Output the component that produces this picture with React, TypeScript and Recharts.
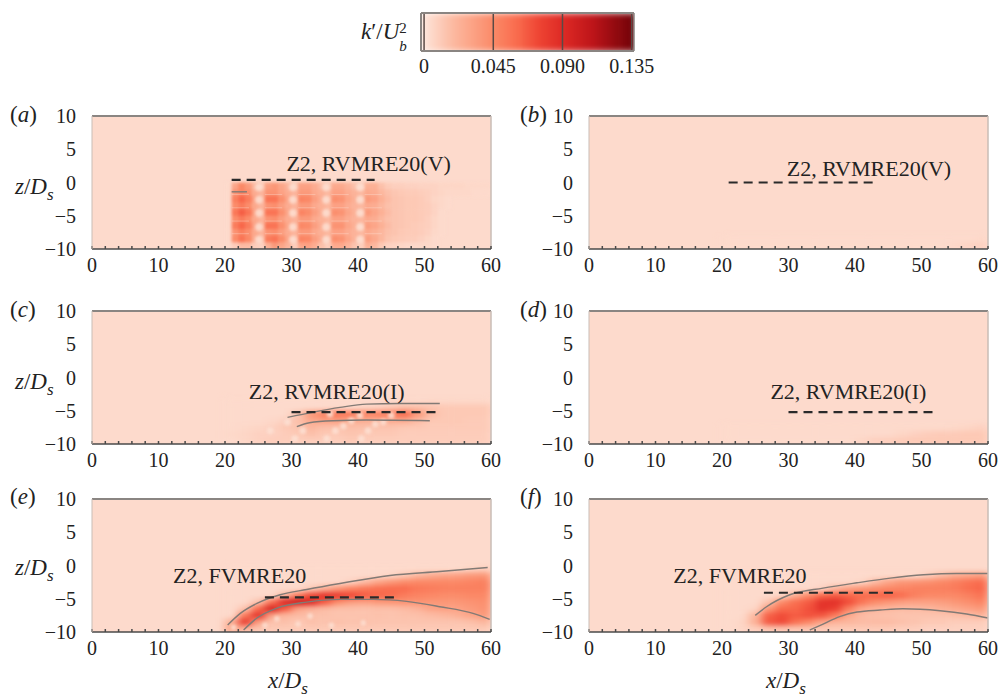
import React from "react";
import {
  CartesianGrid,
  ComposedChart,
  Line,
  ReferenceDot,
  ReferenceLine,
  Scatter,
  XAxis,
  YAxis,
} from "recharts";

const FONT = '"Liberation Serif", serif';
const INK = "#222";

// k'/Ub^2 is stored x1000 in the tables below, background is about 4
const colorStops = [0, 4, 20, 45, 60, 75, 90, 110, 135];
const colorValues = ["#fee6dc", "#fddacc", "#fcb79e", "#fb8a68", "#f96c4e", "#ee4433", "#de2a25", "#bd1419", "#740309"];

const barKeys = [0, 5, 10, 15, 20, 25, 30, 35, 40, 45, 50, 55, 60, 65, 70, 75, 80, 85, 90, 95, 100, 105, 110, 115, 120, 125, 130, 135];
const barTicks = [0, 45, 90, 135];

const xTicks = [0, 2, 4, 6, 8, 10, 12, 14, 16, 18, 20, 22, 24, 26, 28, 30, 32, 34, 36, 38, 40, 42, 44, 46, 48, 50, 52, 54, 56, 58, 60];
const zTicks = [10, 5, 0, -5, -10];
const fieldZ = [-0.5, -1.5, -2.5, -3.5, -4.5, -5.5, -6.5, -7.5, -8.5, -9.5];

// columns x = 20.5, 21.5, ... (dx = 1)
const fieldA = [
  [4, 30, 46, 36, 20, 14, 34, 38, 30, 22, 14, 32, 32, 26, 18, 14, 28, 28, 22, 16, 12, 24, 24, 16, 11, 9, 9, 8, 8, 7, 7, 7, 6, 6, 6, 6, 5, 5, 5, 5],
  [4, 40, 48, 42, 26, 22, 40, 40, 32, 26, 22, 36, 36, 28, 24, 20, 32, 32, 26, 22, 20, 28, 26, 20, 16, 13, 12, 11, 11, 10, 9, 7, 6, 5, 5, 5, 5, 4, 4, 4],
  [4, 50, 62, 52, 32, 22, 56, 56, 42, 30, 22, 48, 46, 34, 26, 20, 42, 40, 30, 24, 18, 36, 32, 24, 18, 14, 13, 12, 12, 11, 9, 6, 5, 4],
  [4, 44, 52, 44, 28, 22, 40, 42, 34, 26, 22, 36, 36, 28, 24, 20, 32, 32, 26, 22, 20, 28, 26, 20, 16, 14, 13, 12, 12, 11, 10, 7, 5, 4],
  [4, 54, 65, 56, 34, 22, 56, 56, 42, 30, 22, 48, 44, 34, 26, 20, 42, 40, 30, 24, 18, 36, 30, 24, 18, 14, 13, 12, 12, 11, 10, 7, 4],
  [4, 44, 52, 44, 28, 22, 40, 42, 34, 26, 22, 36, 36, 28, 24, 20, 32, 32, 26, 22, 20, 28, 26, 20, 16, 14, 13, 12, 12, 11, 9, 6, 4],
  [4, 52, 62, 52, 32, 22, 56, 56, 42, 30, 22, 46, 44, 34, 26, 20, 40, 40, 30, 24, 18, 34, 30, 24, 18, 14, 13, 12, 11, 10, 9, 6, 4],
  [4, 40, 50, 42, 28, 22, 40, 42, 34, 26, 22, 36, 36, 28, 24, 20, 32, 32, 26, 22, 20, 28, 24, 20, 16, 14, 12, 11, 11, 10, 8, 5, 4],
  [4, 44, 56, 46, 26, 18, 52, 56, 44, 30, 18, 48, 46, 34, 26, 18, 42, 40, 30, 22, 16, 34, 28, 20, 14, 12, 11, 10, 10, 8, 6, 4],
  [4, 10, 18, 18, 10, 8, 24, 36, 30, 22, 10, 30, 32, 26, 16, 10, 28, 28, 22, 14, 10, 24, 20, 12, 8, 7, 6, 5, 5, 5, 5, 4],
];

// columns x = 21, 23, ... 59 (dx = 2)
const fieldB = [
  [], [], [], [], [], [], [], [],
  [4, 4, 4, 4, 4, 4, 4, 4, 4, 4, 4, 4, 4, 4, 4, 4, 4, 4, 4, 5],
  [4, 4, 4, 4, 4, 4, 4, 4, 4, 4, 4, 4, 4, 4, 4, 4, 4, 5, 7, 8],
];

const fieldC = [
  [], [], [],
  [4, 4, 4, 4, 4, 4, 4, 4, 4, 4, 4, 4, 4, 4, 4, 5, 5, 5, 5, 5],
  [4, 4, 4, 4, 4, 4, 4, 4, 4, 4, 6, 8, 12, 16, 16, 14, 12, 12, 12, 12],
  [4, 4, 4, 4, 4, 14, 38, 50, 56, 54, 50, 50, 54, 62, 38, 18, 12, 12, 12, 12],
  [4, 4, 4, 5, 8, 16, 28, 32, 32, 28, 24, 24, 26, 26, 18, 12, 12, 12, 11, 11],
  [4, 5, 6, 8, 12, 14, 20, 16, 16, 16, 16, 14, 14, 12, 12, 11, 11, 11, 11, 11],
  [5, 6, 8, 8, 10, 12, 16, 12, 12, 14, 12, 12, 12, 10, 10, 10, 10, 10, 10, 10],
  [4, 6, 8, 10, 10, 10, 10, 10, 10, 12, 10, 10, 10, 10, 10, 10, 10, 10, 10, 10],
];

const fieldD = [
  [], [], [], [], [], [], [],
  [4, 4, 4, 4, 4, 4, 4, 4, 4, 4, 4, 4, 4, 4, 4, 4, 4, 5, 6, 8],
  [4, 4, 4, 4, 4, 4, 4, 4, 4, 4, 4, 4, 4, 6, 8, 10, 11, 11, 12, 12],
  [4, 4, 4, 4, 4, 4, 4, 4, 4, 4, 6, 9, 10, 11, 12, 12, 12, 12, 12, 12],
];

const fieldE = [
  [4, 4, 4, 4, 4, 4, 4, 4, 4, 4, 4, 4, 4, 4, 4, 4, 4, 4, 6, 9],
  [4, 4, 4, 4, 4, 4, 4, 4, 4, 4, 4, 4, 6, 12, 20, 26, 30, 32, 36, 38],
  [4, 4, 4, 4, 4, 4, 4, 4, 4, 8, 18, 30, 38, 44, 46, 46, 46, 46, 48, 50],
  [4, 4, 4, 4, 4, 4, 12, 24, 38, 48, 54, 58, 60, 60, 54, 52, 50, 50, 50, 50],
  [4, 4, 4, 4, 20, 52, 74, 84, 80, 74, 66, 62, 60, 52, 48, 46, 44, 44, 46, 46],
  [4, 4, 14, 56, 92, 102, 92, 66, 42, 34, 32, 36, 38, 40, 40, 38, 38, 38, 40, 42],
  [4, 14, 60, 96, 66, 30, 22, 18, 16, 16, 15, 16, 16, 18, 22, 30, 32, 32, 36, 40],
  [4, 52, 86, 30, 20, 18, 16, 15, 14, 14, 14, 15, 14, 15, 16, 18, 20, 24, 30, 36],
  [24, 82, 32, 14, 16, 12, 16, 14, 16, 14, 16, 14, 14, 14, 14, 14, 14, 14, 16, 20],
  [30, 20, 14, 12, 12, 12, 12, 12, 12, 12, 12, 12, 12, 12, 12, 12, 12, 12, 12, 12],
];

const fieldF = [
  [],
  [4, 4, 4, 4, 4, 4, 4, 4, 4, 4, 4, 4, 4, 4, 4, 10, 18, 26, 30, 34],
  [4, 4, 4, 4, 4, 4, 4, 4, 4, 4, 6, 18, 30, 38, 40, 42, 46, 50, 56, 60],
  [4, 4, 4, 4, 4, 4, 4, 8, 20, 32, 38, 42, 46, 48, 50, 50, 50, 52, 58, 62],
  [4, 4, 4, 4, 6, 24, 44, 60, 66, 62, 60, 62, 64, 60, 50, 46, 46, 46, 50, 56],
  [4, 4, 4, 14, 44, 58, 66, 84, 86, 72, 56, 44, 38, 34, 32, 32, 34, 38, 42, 48],
  [4, 4, 6, 38, 60, 62, 70, 84, 78, 50, 28, 22, 20, 18, 18, 20, 24, 28, 32, 36],
  [4, 4, 20, 64, 72, 66, 70, 68, 52, 28, 18, 16, 15, 14, 14, 14, 14, 16, 18, 22],
  [4, 6, 24, 68, 74, 58, 46, 30, 22, 20, 18, 18, 18, 16, 14, 12, 12, 10, 10, 10],
  [4, 6, 10, 14, 14, 14, 14, 12, 12, 12, 12, 12, 12, 10, 10, 8, 8, 8, 8, 8],
];

// light spots left by the vegetation patches
const holesA = [25.1, 30.2, 35.2, 40.3].flatMap((x) =>
  [-0.7, -2.6, -4.6, -6.7, -8.6].map((z) => ({ x, z })),
);
const holesC = [
  { x: 26.8, z: -8 }, { x: 29.4, z: -6.7 }, { x: 30.5, z: -9.2 }, { x: 31.7, z: -8 },
  { x: 35.3, z: -9.2 }, { x: 36.6, z: -8 }, { x: 37.8, z: -7.3 }, { x: 39, z: -6.5 },
  { x: 35.8, z: -5.5 }, { x: 40.3, z: -5.7 }, { x: 40.5, z: -9.2 }, { x: 41.5, z: -8 },
  { x: 42.6, z: -7 }, { x: 43.8, z: -6.7 }, { x: 45, z: -5.7 },
];
const holesE = [
  { x: 21.3, z: -9.3 }, { x: 26, z: -9 }, { x: 27.8, z: -8 }, { x: 31, z: -8.8 },
  { x: 32.8, z: -7.6 }, { x: 36, z: -9 }, { x: 40.8, z: -8.6 },
];

const contourAShort = [{ x: 21, z: -1.4 }, { x: 23.3, z: -1.4 }];
const contourCUpper = [
  { x: 29.4, z: -6 }, { x: 33.3, z: -5.2 }, { x: 37.3, z: -4.5 }, { x: 41.3, z: -4 }, { x: 46.3, z: -3.9 }, { x: 52.3, z: -3.9 },
];
const contourCLower = [
  { x: 30.8, z: -7.4 }, { x: 32.7, z: -6.8 }, { x: 36.2, z: -6.5 }, { x: 41.3, z: -6.4 }, { x: 50.8, z: -6.5 },
];
const contourEUpper = [
  { x: 20.4, z: -8.95 }, { x: 22.3, z: -7.2 }, { x: 24.8, z: -5.7 }, { x: 28.3, z: -4.4 }, { x: 32.3, z: -3.6 },
  { x: 37.3, z: -2.7 }, { x: 44.8, z: -1.5 }, { x: 52.3, z: -0.9 }, { x: 59.5, z: -0.3 },
];
const contourELower = [
  { x: 22.8, z: -9.7 }, { x: 24.8, z: -7.9 }, { x: 27.8, z: -6.4 }, { x: 32.3, z: -5.5 }, { x: 37.3, z: -5.1 },
  { x: 42.3, z: -5.1 }, { x: 47.3, z: -5.4 }, { x: 52.3, z: -6.2 }, { x: 57.3, z: -7.2 }, { x: 59.8, z: -8.1 },
];
const contourFUpper = [
  { x: 25, z: -7.5 }, { x: 26.7, z: -6.2 }, { x: 30.2, z: -4.4 }, { x: 35.2, z: -3.4 }, { x: 40.3, z: -2.6 },
  { x: 45.3, z: -1.9 }, { x: 50.3, z: -1.4 }, { x: 55.3, z: -1.2 }, { x: 60, z: -1.2 },
];
const contourFLower = [
  { x: 33.2, z: -9.7 }, { x: 35.2, z: -8.8 }, { x: 37.7, z: -7.7 }, { x: 40.3, z: -7 }, { x: 43.8, z: -6.7 },
  { x: 47.2, z: -6.5 }, { x: 52.8, z: -6.8 }, { x: 56.8, z: -7.3 }, { x: 60, z: -7.9 },
];

const streakZ = [-1.8, -3.8, -5.8, -7.7];
const streakStart = [21, 26, 31, 36, 41];

const colorOf = (k: number) => {
  let i = 0;
  while (i < colorStops.length - 2 && k > colorStops[i + 1]) i++;
  const t = Math.min(1, Math.max(0, (k - colorStops[i]) / (colorStops[i + 1] - colorStops[i])));
  const hex = (c: string, at: number) => parseInt(c.slice(at, at + 2), 16);
  const mix = (at: number) => Math.round(hex(colorValues[i], at) * (1 - t) + hex(colorValues[i + 1], at) * t);
  return `rgb(${mix(1)},${mix(3)},${mix(5)})`;
};

const PLOT_W = 399;
const PLOT_H = 133;

const heatCell = (w: number, h: number) => ({ cx, cy, payload }: any) => (
  <rect x={cx - w / 2} y={cy - h / 2} width={w + 0.6} height={h + 0.6} fill={colorOf(payload.k)} />
);

const toCells = (rows: number[][], startX: number, dx: number) =>
  rows.flatMap((row, r) => row.map((k, c) => ({ x: startX + c * dx, z: fieldZ[r], k })));

const zLabel = (v: number) => String(v).replace("-", "\u2212");
const xLabel = (v: number) => (v % 10 === 0 ? String(v) : "");

interface PanelProps {
  left: number;
  top: number;
  rows: number[][];
  startX: number;
  dx: number;
  dash: { x1: number; x2: number; z: number };
  note: { text: string; x: number; z: number };
  holes?: { x: number; z: number }[];
  holeRadius?: number;
  contours?: { x: number; z: number }[][];
  streaks?: boolean;
}

const Panel = ({ left, top, rows, startX, dx, dash, note, holes, holeRadius = 4, contours = [], streaks }: PanelProps) => (
  <div style={{ position: "absolute", left, top: top - 10 }}>
    <ComposedChart width={512} height={180} margin={{ top: 10, right: 21, bottom: 0, left: 0 }}>
      <CartesianGrid horizontal={false} vertical={false} fill={colorOf(4)} fillOpacity={1} />
      <XAxis
        dataKey="x"
        type="number"
        domain={[0, 60]}
        ticks={xTicks}
        interval={0}
        height={37}
        tickSize={-3}
        tickMargin={12}
        tickFormatter={xLabel}
        stroke="#4a4a4a"
        strokeWidth={1.5}
        tick={{ fontFamily: FONT, fontSize: 20, fill: INK }}
      />
      <YAxis
        dataKey="z"
        type="number"
        domain={[-10, 10]}
        ticks={zTicks}
        interval={0}
        width={92}
        tickLine={false}
        tickMargin={10}
        tickFormatter={zLabel}
        stroke="#c9bdb6"
        tick={{ fontFamily: FONT, fontSize: 20, fill: INK }}
      />
      <ReferenceLine y={10} stroke="#8a8582" strokeWidth={2} />
      <ReferenceLine x={60} stroke="#c9bdb6" strokeWidth={1.5} />
      <Scatter
        className={dx === 2 ? "coarse" : "field"}
        data={toCells(rows, startX, dx)}
        shape={heatCell((dx * PLOT_W) / 60, PLOT_H / 20)}
        isAnimationActive={false}
        zIndex={50}
      />
      {streaks &&
        streakZ.flatMap((z) =>
          streakStart.map((x) => (
            <ReferenceLine
              key={`${x}${z}`}
              segment={[{ x, y: z }, { x: x + 2.6, y: z }]}
              stroke="#fde6dc"
              strokeOpacity={0.35}
              zIndex={60}
            />
          )),
        )}
      {holes && (
        <Scatter
          className="field"
          data={holes}
          shape={({ cx, cy }: any) => <circle cx={cx} cy={cy} r={holeRadius} fill="#fde0d4" fillOpacity={0.85} />}
          isAnimationActive={false}
          zIndex={70}
        />
      )}
      {contours.map((points, i) => (
        <Line
          key={i}
          data={points}
          dataKey="z"
          type="monotone"
          dot={false}
          stroke="#827a75"
          strokeWidth={1.4}
          isAnimationActive={false}
          zIndex={80}
        />
      ))}
      <ReferenceLine
        segment={[{ x: dash.x1, y: dash.z }, { x: dash.x2, y: dash.z }]}
        stroke="#2a2a2a"
        strokeWidth={2.2}
        strokeDasharray="9 6"
        zIndex={90}
      />
      <ReferenceDot
        x={note.x}
        y={note.z}
        r={0}
        fill="none"
        stroke="none"
        zIndex={90}
        label={{ value: note.text, position: "center", fontFamily: FONT, fontSize: 22, fill: INK }}
      />
    </ComposedChart>
  </div>
);

const ColorBar = () => (
  <div style={{ position: "absolute", left: 400, top: 0 }}>
    <ComposedChart width={270} height={82} margin={{ top: 13, right: 36, bottom: 0, left: 21 }}>
      <XAxis
        dataKey="x"
        type="number"
        domain={[-2, 136.5]}
        ticks={barTicks}
        interval={0}
        height={31}
        tickLine={false}
        tickMargin={2}
        stroke="#8a8582"
        strokeWidth={2}
        tickFormatter={(v: number) => (v === 0 ? "0" : (v / 1000).toFixed(3))}
        tick={{ fontFamily: FONT, fontSize: 20, fill: INK }}
      />
      <YAxis dataKey="z" type="number" domain={[0, 1]} hide />
      <Scatter
        className="barfield"
        data={barKeys.map((k) => ({ x: k, z: 0.5, k }))}
        shape={heatCell(7.8, 38)}
        isAnimationActive={false}
        zIndex={50}
      />
      {barTicks.map((k) => (
        <ReferenceLine key={k} x={k} stroke="#5a4a46" strokeWidth={1.5} zIndex={60} />
      ))}
      <ReferenceLine y={1} stroke="#8a8582" strokeWidth={2} zIndex={60} />
      <ReferenceLine x={-2} stroke="#8a8582" strokeWidth={2} zIndex={60} />
      <ReferenceLine x={136.5} stroke="#8a8582" strokeWidth={1.5} zIndex={60} />
    </ComposedChart>
  </div>
);

const Tag = ({ x, y, children }: { x: number; y: number; children: React.ReactNode }) => (
  <div
    style={{
      position: "absolute",
      left: x,
      top: y,
      fontFamily: FONT,
      fontSize: 23,
      lineHeight: "24px",
      color: INK,
      whiteSpace: "nowrap",
    }}
  >
    {children}
  </div>
);

const RatioLabel = ({ x, y, name }: { x: number; y: number; name: string }) => (
  <Tag x={x} y={y}>
    <i>{name}</i>/<i>D</i>
    <i style={{ fontSize: 17, position: "relative", top: 6 }}>s</i>
  </Tag>
);

const panelTags = [
  { name: "a", x: 10, y: 103 },
  { name: "b", x: 520, y: 103 },
  { name: "c", x: 10, y: 298 },
  { name: "d", x: 520, y: 298 },
  { name: "e", x: 10, y: 485 },
  { name: "f", x: 520, y: 485 },
];
const zLabelRows = [175, 370, 556];

export default function App() {
  return (
    <div style={{ position: "absolute", left: 0, top: 0, width: 999, height: 698, background: "#fff", overflow: "hidden" }}>
      <style>{`.field { filter: url(#soft); } .coarse { filter: url(#softCoarse); } .barfield { filter: url(#softBar); }`}</style>
      <svg width={0} height={0} style={{ position: "absolute" }}>
        <defs>
          <filter id="soft" filterUnits="userSpaceOnUse" x={92} y={10} width={PLOT_W} height={PLOT_H} colorInterpolationFilters="sRGB">
            <feGaussianBlur stdDeviation={1.5} edgeMode="duplicate" />
          </filter>
          <filter id="softCoarse" filterUnits="userSpaceOnUse" x={92} y={10} width={PLOT_W} height={PLOT_H} colorInterpolationFilters="sRGB">
            <feGaussianBlur stdDeviation="4 2.4" edgeMode="duplicate" />
          </filter>
          <filter id="softBar" filterUnits="userSpaceOnUse" x={21} y={13} width={213} height={38} colorInterpolationFilters="sRGB">
            <feGaussianBlur stdDeviation={3} edgeMode="duplicate" />
          </filter>
        </defs>
      </svg>

      <ColorBar />
      <Tag x={361} y={20}>
        <i>k</i>′/<i>U</i>
        <span style={{ position: "relative", display: "inline-block", width: 12, height: 10 }}>
          <i style={{ position: "absolute", left: 0, top: 11, fontSize: 15, lineHeight: "12px" }}>b</i>
          <span style={{ position: "absolute", left: 0, top: -7, fontSize: 15, lineHeight: "12px" }}>2</span>
        </span>
      </Tag>

      <Panel left={0} top={116} rows={fieldA} startX={20.5} dx={1} holes={holesA} streaks
        contours={[contourAShort]}
        dash={{ x1: 21, x2: 42.5, z: 0.4 }} note={{ text: "Z2, RVMRE20(V)", x: 41.6, z: 2.9 }} />
      <Panel left={497} top={116} rows={fieldB} startX={21} dx={2}
        dash={{ x1: 21, x2: 43, z: 0 }} note={{ text: "Z2, RVMRE20(V)", x: 42.1, z: 2.2 }} />
      <Panel left={0} top={311} rows={fieldC} startX={21} dx={2} holes={holesC} holeRadius={3.4}
        contours={[contourCUpper, contourCLower]}
        dash={{ x1: 30, x2: 52, z: -5.2 }} note={{ text: "Z2, RVMRE20(I)", x: 35.3, z: -2 }} />
      <Panel left={497} top={311} rows={fieldD} startX={21} dx={2}
        dash={{ x1: 30, x2: 52, z: -5.2 }} note={{ text: "Z2, RVMRE20(I)", x: 39, z: -2 }} />
      <Panel left={0} top={499} rows={fieldE} startX={21} dx={2} holes={holesE} holeRadius={2.8}
        contours={[contourEUpper, contourELower]}
        dash={{ x1: 26, x2: 45.5, z: -4.8 }} note={{ text: "Z2, FVMRE20", x: 22.2, z: -1.4 }} />
      <Panel left={497} top={499} rows={fieldF} startX={21} dx={2}
        contours={[contourFUpper, contourFLower]}
        dash={{ x1: 26.3, x2: 45.7, z: -4.1 }} note={{ text: "Z2, FVMRE20", x: 22.7, z: -1.4 }} />

      {panelTags.map((t) => (
        <Tag key={t.name} x={t.x} y={t.y}>
          (<i>{t.name}</i>)
        </Tag>
      ))}
      {zLabelRows.map((y) => (
        <RatioLabel key={y} x={15} y={y} name="z" />
      ))}
      <RatioLabel x={268} y={669} name="x" />
      <RatioLabel x={766} y={669} name="x" />
    </div>
  );
}
